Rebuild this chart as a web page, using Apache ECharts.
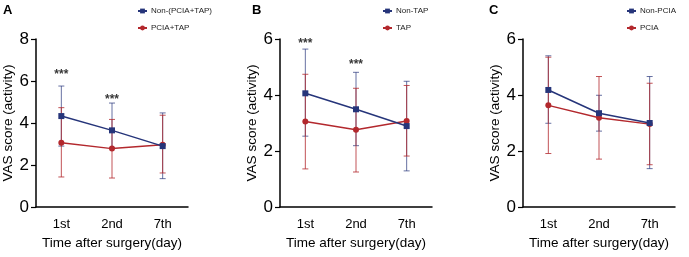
<!DOCTYPE html>
<html>
<head>
<meta charset="utf-8">
<script src="https://cdn.jsdelivr.net/npm/echarts@6/dist/echarts.min.js"></script>
<style>
  html, body { margin: 0; padding: 0; background: #fff; }
  #main { width: 689px; height: 257px; }
</style>
</head>
<body>
<div id="main"></div>
<script>
var categories = ['1st', '2nd', '7th'];

// panel A
var aNonMean = [4.33, 3.65, 2.90];
var aNonLow = [2.90, 2.81, 1.35];
var aNonHigh = [5.76, 4.95, 4.48];
var aMean = [3.06, 2.78, 2.97];
var aLow = [1.43, 1.38, 1.62];
var aHigh = [4.73, 4.17, 4.37];
var aStars = [[0, 6.29], [1, 5.12]];

// panel B
var bNonMean = [4.06, 3.49, 2.89];
var bNonLow = [2.53, 2.19, 1.29];
var bNonHigh = [5.64, 4.81, 4.49];
var bMean = [3.05, 2.76, 3.07];
var bLow = [1.36, 1.25, 1.82];
var bHigh = [4.74, 4.24, 4.34];
var bStars = [[0, 5.82], [1, 5.10]];

// panel C
var cNonMean = [4.18, 3.35, 3.00];
var cNonLow = [2.99, 2.71, 1.37];
var cNonHigh = [5.40, 3.99, 4.66];
var cMean = [3.63, 3.19, 2.96];
var cLow = [1.91, 1.71, 1.51];
var cHigh = [5.35, 4.66, 4.42];

var blue = '#26357a';
var red = '#b3282d';
var font = 'Liberation Sans, Arial, sans-serif';

var dom = document.getElementById('main');
var myChart = echarts.init(dom, null, { renderer: 'canvas' });

var panels = [
  { letter: 'A', left: 36, max: 8, names: ['Non-(PCIA+TAP)', 'PCIA+TAP'],
    legendLeft: 137, nonMean: aNonMean, nonLow: aNonLow, nonHigh: aNonHigh,
    mean: aMean, low: aLow, high: aHigh, stars: aStars, letterX: 3, nameGap: 20 },
  { letter: 'B', left: 280, max: 6, names: ['Non-TAP', 'TAP'],
    legendLeft: 382, nonMean: bNonMean, nonLow: bNonLow, nonHigh: bNonHigh,
    mean: bMean, low: bLow, high: bHigh, stars: bStars, letterX: 252, nameGap: 21 },
  { letter: 'C', left: 523, max: 6, names: ['Non-PCIA', 'PCIA'],
    legendLeft: 626, nonMean: cNonMean, nonLow: cNonLow, nonHigh: cNonHigh,
    mean: cMean, low: cLow, high: cHigh, stars: [], letterX: 489, nameGap: 19 }
];

function errorData(low, high) {
  return low.map(function (v, i) { return [i, v, high[i]]; });
}

function renderError(color) {
  return function (params, api) {
    var top = api.coord([api.value(0), api.value(2)]);
    var bot = api.coord([api.value(0), api.value(1)]);
    var w = 3;
    var style = { stroke: color, lineWidth: 1 };
    return {
      type: 'group',
      children: [
        { type: 'line', shape: { x1: top[0], y1: top[1], x2: bot[0], y2: bot[1] }, style: style },
        { type: 'line', shape: { x1: top[0] - w, y1: top[1], x2: top[0] + w, y2: top[1] }, style: style },
        { type: 'line', shape: { x1: bot[0] - w, y1: bot[1], x2: bot[0] + w, y2: bot[1] }, style: style }
      ]
    };
  };
}

var option = {
  animation: false,
  backgroundColor: '#fff',
  title: [],
  legend: [],
  grid: [],
  xAxis: [],
  yAxis: [],
  series: []
};

panels.forEach(function (p, k) {
  option.title.push({
    text: p.letter, left: p.letterX, top: 4, padding: 0,
    textStyle: { fontFamily: font, fontSize: 13, fontWeight: 'bold', color: '#000' }
  });
  option.legend.push({
    left: p.legendLeft, top: 7, padding: 0, orient: 'vertical', itemGap: 9,
    itemWidth: 9, itemHeight: 6,
    data: p.names,
    textStyle: { fontFamily: font, fontSize: 8, color: '#222', padding: [0, 0, 0, -1] }
  });
  option.grid.push({
    left: p.left, width: 152, top: 39, height: 168,
    containLabel: false, outerBoundsMode: 'none'
  });
  option.xAxis.push({
    type: 'category', gridIndex: k, data: categories,
    axisLine: { lineStyle: { color: '#000', width: 1.5 } },
    axisTick: { alignWithLabel: true, length: 5, lineStyle: { color: '#000', width: 1.2 } },
    axisLabel: { fontFamily: font, fontSize: 13, color: '#000', margin: 11 },
    name: 'Time after surgery(day)', nameLocation: 'middle', nameGap: 29,
    nameTextStyle: { fontFamily: font, fontSize: 13.5, color: '#000' }
  });
  option.yAxis.push({
    type: 'value', gridIndex: k, min: 0, max: p.max, interval: 2,
    splitLine: { show: false },
    axisLine: { show: true, lineStyle: { color: '#000', width: 1.5 } },
    axisTick: { show: true, length: 5, lineStyle: { color: '#000', width: 1.2 } },
    axisLabel: { fontFamily: font, fontSize: 17, color: '#000', margin: 7 },
    name: 'VAS score (activity)', nameLocation: 'middle', nameGap: p.nameGap,
    nameTextStyle: { fontFamily: font, fontSize: 13.5, color: '#000' }
  });
  option.series.push({
    type: 'custom', xAxisIndex: k, yAxisIndex: k, z: 1,
    renderItem: renderError('rgba(38,53,122,0.7)'),
    data: errorData(p.nonLow, p.nonHigh)
  });
  option.series.push({
    type: 'custom', xAxisIndex: k, yAxisIndex: k, z: 1,
    renderItem: renderError('rgba(179,40,45,0.8)'),
    data: errorData(p.low, p.high)
  });
  option.series.push({
    name: p.names[1], type: 'line', xAxisIndex: k, yAxisIndex: k, z: 3,
    data: p.mean, symbol: 'circle', symbolSize: 6,
    color: red, lineStyle: { width: 1.5, color: red }, itemStyle: { color: red }
  });
  option.series.push({
    name: p.names[0], type: 'line', xAxisIndex: k, yAxisIndex: k, z: 4,
    data: p.nonMean, symbol: 'rect', symbolSize: 6,
    color: blue, lineStyle: { width: 1.5, color: blue }, itemStyle: { color: blue }
  });
  if (p.stars.length) {
    option.series.push({
      type: 'scatter', xAxisIndex: k, yAxisIndex: k, z: 5,
      data: p.stars, symbolSize: 0, silent: true,
      label: {
        show: true, position: 'inside', formatter: '***',
        fontFamily: font, fontSize: 12, fontWeight: 'bold', color: '#000'
      }
    });
  }
});

if (option && typeof option === 'object') {
  myChart.setOption(option);
}

window.addEventListener('resize', myChart.resize);
</script>
</body>
</html>
